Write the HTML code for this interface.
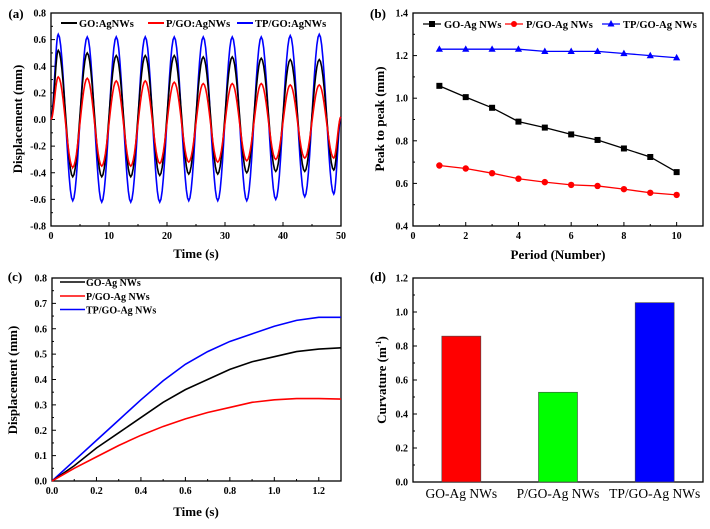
<!DOCTYPE html>
<html><head><meta charset="utf-8"><style>
body{margin:0;background:#fff;}
svg{display:block;font-family:"Liberation Serif",serif;font-weight:bold;}
</style></head><body>
<svg id="fig" width="710" height="529" viewBox="0 0 710 529" xmlns="http://www.w3.org/2000/svg"></svg>
<script>
// ---- Panel (a) data: per-cycle peaks / troughs ----
const aPeaksBlack=[0.52,0.50,0.48,0.48,0.48,0.47,0.47,0.46,0.45,0.45];
const aTroughBlack=[-0.43,-0.43,-0.43,-0.42,-0.41,-0.41,-0.40,-0.39,-0.39,-0.38];
const aPeaksRed=[0.32,0.31,0.29,0.29,0.28,0.27,0.27,0.27,0.26,0.26];
const aTroughRed=[-0.36,-0.35,-0.35,-0.33,-0.32,-0.32,-0.31,-0.30,-0.29,-0.29];
const aPeaksBlue=[0.64,0.62,0.62,0.62,0.62,0.62,0.62,0.62,0.63,0.64];
const aTroughBlue=[-0.61,-0.62,-0.62,-0.62,-0.61,-0.61,-0.61,-0.60,-0.58,-0.56];
const aXTicks=[0,10,20,30,40,50];
const aYTicks=[-0.8,-0.6,-0.4,-0.2,0.0,0.2,0.4,0.6,0.8];
// ---- Panel (b) ----
const bPeriods=[1,2,3,4,5,6,7,8,9,10];
const bGO=[1.058,1.005,0.955,0.89,0.862,0.83,0.804,0.764,0.724,0.653];
const bP=[0.684,0.67,0.648,0.622,0.606,0.593,0.588,0.573,0.556,0.546];
const bTP=[1.23,1.23,1.23,1.23,1.22,1.22,1.22,1.21,1.20,1.19];
const bXTicks=[0,2,4,6,8,10];
const bYTicks=[0.4,0.6,0.8,1.0,1.2,1.4];
// ---- Panel (c) ----
const cTime=[0,0.1,0.2,0.3,0.4,0.5,0.6,0.7,0.8,0.9,1.0,1.1,1.2,1.3];
const cGO=[0,0.06,0.13,0.19,0.25,0.31,0.36,0.40,0.44,0.47,0.49,0.51,0.52,0.525];
const cP=[0,0.05,0.095,0.14,0.18,0.215,0.245,0.27,0.29,0.31,0.32,0.325,0.325,0.323];
const cTP=[0,0.08,0.16,0.24,0.32,0.395,0.46,0.51,0.55,0.58,0.61,0.633,0.645,0.645];
const cXTicks=[0.0,0.2,0.4,0.6,0.8,1.0,1.2];
const cYTicks=[0.0,0.1,0.2,0.3,0.4,0.5,0.6,0.7,0.8];
// ---- Panel (d) ----
const dCats=["GO-Ag NWs","P/GO-Ag NWs","TP/GO-Ag NWs"];
const dVals=[0.858,0.528,1.055];
const dColors=["#ff0000","#00ff00","#0000ff"];
const dYTicks=[0.0,0.2,0.4,0.6,0.8,1.0,1.2];

const NS="http://www.w3.org/2000/svg";
const svg=document.getElementById('fig');
function mk(tag,attrs,parent,txt){const e=document.createElementNS(NS,tag);for(const k in attrs)e.setAttribute(k,attrs[k]);if(txt!==undefined)e.textContent=txt;(parent||svg).appendChild(e);return e;}
function lin(d0,d1,r0,r1){return v=>r0+(v-d0)/(d1-d0)*(r1-r0);}

function axes(g,x0,x1,y0,y1,xs,ys,xt,yt,xfmt,yfmt,xMinor){
  const frame=mk('rect',{x:x0,y:y0,width:x1-x0,height:y1-y0,fill:'none',stroke:'#000','stroke-width':1.3},g);
  
  if(xt){xt.forEach((v,i)=>{const x=xs(v);mk('line',{x1:x,x2:x,y1:y1,y2:y1-4,stroke:'#000'},g);
    const t=mk('text',{x:x,y:y1+13,'font-size':10,'text-anchor':'middle'},g,xfmt(v));
    
    if(xMinor&&i<xt.length-1){const xm=xs((v+xt[i+1])/2);mk('line',{x1:xm,x2:xm,y1:y1,y2:y1-2,stroke:'#000'},g);}});}
  yt.forEach((v,i)=>{const y=ys(v);mk('line',{x1:x0,x2:x0+4,y1:y,y2:y,stroke:'#000'},g);
    const t=mk('text',{x:x0-5,y:y+3.5,'font-size':10,'text-anchor':'end'},g,yfmt(v));
    
    if(i<yt.length-1){const ym=ys((v+yt[i+1])/2);mk('line',{x1:x0,x2:x0+2,y1:ym,y2:ym,stroke:'#000'},g);}});
}
function path(g,pts,color,w,name){const p=mk('path',{d:'M'+pts.map(p=>p[0].toFixed(2)+','+p[1].toFixed(2)).join('L'),fill:'none',stroke:color,'stroke-width':w},g);
  return p;}
function label(g,x,y,txt,size,name,rot){const t=mk('text',{x:x,y:y,'font-size':size,'text-anchor':'middle'},g,txt);
  if(rot)t.setAttribute('transform','rotate(-90 '+x+' '+y+')');return t;}

// ===== Panel a =====
(function(){
  const g=mk('g',{});
  const x0=51,x1=341,y0=13,y1=226;
  const xs=lin(0,50,x0,x1),ys=lin(-0.8,0.8,y1,y0);
  axes(g,x0,x1,y0,y1,xs,ys,aXTicks,aYTicks,v=>String(v),v=>v.toFixed(1),true);
  function wave(pk,tr){
    const key=[[0,0]];
    for(let i=0;i<pk.length;i++){key.push([5*i+1.25,pk[i]]);key.push([5*i+3.75,tr[i]]);}
    key.push([50,0.02]);
    const pts=[];
    for(let k=0;k<key.length-1;k++){const [ta,va]=key[k],[tb,vb]=key[k+1];
      for(let s=0;s<=12;s++){const f=s/12;const c=(1-Math.cos(Math.PI*f))/2;pts.push([xs(ta+(tb-ta)*f),ys(va+(vb-va)*c)]);}}
    return pts;}
  path(g,wave(aPeaksBlue,aTroughBlue),'#0000ff',1.6,'series-tp-go-agnws');
  path(g,wave(aPeaksBlack,aTroughBlack),'#000000',1.6,'series-go-agnws');
  path(g,wave(aPeaksRed,aTroughRed),'#ff0000',1.6,'series-p-go-agnws');
  const leg=[["GO:AgNWs","#000",61],["P/GO:AgNWs","#f00",148],["TP/GO:AgNWs","#00f",237]];
  leg.forEach(l=>{mk('line',{x1:l[2],x2:l[2]+16,y1:23,y2:23,stroke:l[1],'stroke-width':2},g);
    const t=mk('text',{x:l[2]+18,y:27,'font-size':10.5},g,l[0]);});
  label(g,196,258,'Time (s)',13,'x-axis-title');
  label(g,22,119,'Displacement (mm)',13,'y-axis-title',true);
  label(g,16,18,'(a)',13,'panel-label');
})();

// ===== Panel b =====
(function(){
  const g=mk('g',{});
  const x0=413,x1=703,y0=13,y1=226;
  const xs=lin(0,11,x0,x1),ys=lin(0.4,1.4,y1,y0);
  axes(g,x0,x1,y0,y1,xs,ys,bXTicks,bYTicks,v=>String(v),v=>v.toFixed(1),true);
  function ser(vals,color,name,marker){
    const pts=bPeriods.map((p,i)=>[xs(p),ys(vals[i])]);path(g,pts,color,1.3,name);
    pts.forEach(p=>{let m;
      if(marker==='sq')m=mk('rect',{x:p[0]-3,y:p[1]-3,width:6,height:6,fill:color},g);
      else if(marker==='ci')m=mk('circle',{cx:p[0],cy:p[1],r:3.2,fill:color},g);
      else m=mk('path',{d:`M${p[0]},${p[1]-3.8}L${p[0]+3.6},${p[1]+2.6}L${p[0]-3.6},${p[1]+2.6}Z`,fill:color},g);
      });}
  ser(bTP,'#0000ff','series-tp-go-ag-nws','tr');
  ser(bGO,'#000000','series-go-ag-nws','sq');
  ser(bP,'#ff0000','series-p-go-ag-nws','ci');
  const leg=[["GO-Ag NWs","#000",418,'sq'],["P/GO-Ag NWs","#f00",500,'ci'],["TP/GO-Ag NWs","#00f",597,'tr']];
  leg.forEach(l=>{mk('line',{x1:l[2]+5,x2:l[2]+23,y1:24,y2:24,stroke:l[1],'stroke-width':1.3},g);
    const cx=l[2]+14;
    if(l[3]==='sq')mk('rect',{x:cx-3,y:21,width:6,height:6,fill:l[1]},g);
    else if(l[3]==='ci')mk('circle',{cx:cx,cy:24,r:3,fill:l[1]},g);
    else mk('path',{d:`M${cx},20L${cx+3.5},26.5L${cx-3.5},26.5Z`,fill:l[1]},g);
    const t=mk('text',{x:l[2]+26,y:28,'font-size':10.5},g,l[0]);});
  label(g,558,259,'Period (Number)',13,'x-axis-title');
  label(g,384,119,'Peak to peak (mm)',13,'y-axis-title',true);
  label(g,378,18,'(b)',13,'panel-label');
})();

// ===== Panel c =====
(function(){
  const g=mk('g',{});
  const x0=52,x1=341,y0=278,y1=481;
  const xs=lin(0,1.3,x0,x1),ys=lin(0,0.8,y1,y0);
  axes(g,x0,x1,y0,y1,xs,ys,cXTicks,cYTicks,v=>v.toFixed(1),v=>v.toFixed(1),true);
  path(g,cTime.map((t,i)=>[xs(t),ys(cTP[i])]),'#0000ff',1.6,'series-tp-go-ag-nws');
  path(g,cTime.map((t,i)=>[xs(t),ys(cGO[i])]),'#000000',1.6,'series-go-ag-nws');
  path(g,cTime.map((t,i)=>[xs(t),ys(cP[i])]),'#ff0000',1.6,'series-p-go-ag-nws');
  const leg=[["GO-Ag NWs","#000",282],["P/GO-Ag NWs","#f00",296],["TP/GO-Ag NWs","#00f",309.5]];
  leg.forEach(l=>{mk('line',{x1:60,x2:85,y1:l[2],y2:l[2],stroke:l[1],'stroke-width':1.6},g);
    const t=mk('text',{x:86,y:l[2]+4,'font-size':10},g,l[0]);});
  label(g,196,516,'Time (s)',13,'x-axis-title');
  label(g,17,380,'Displacement (mm)',13,'y-axis-title',true);
  label(g,15,281,'(c)',13,'panel-label');
})();

// ===== Panel d =====
(function(){
  const g=mk('g',{});
  const x0=413,x1=703,y0=278,y1=482;
  const xs=lin(0.5,3.5,x0,x1),ys=lin(0,1.2,y1,y0);
  axes(g,x0,x1,y0,y1,xs,ys,null,dYTicks,null,v=>v.toFixed(1),false);
  dCats.forEach((c,i)=>{const cx=xs(i+1),top=ys(dVals[i]);
    const r=mk('rect',{x:cx-19.5,y:top,width:39,height:y1-top,fill:dColors[i],stroke:'#444','stroke-width':0.6},g);
    
    const t=mk('text',{x:cx,y:y1+16,'font-size':13.5,'text-anchor':'middle','font-weight':'normal'},g,c);
    });
  const yt=mk('text',{x:386,y:380,'font-size':13,'text-anchor':'middle',transform:'rotate(-90 386 380)'},g);
  
  yt.appendChild(document.createTextNode('Curvature (m'));
  mk('tspan',{'font-size':8,dy:-5},yt,'-1');
  mk('tspan',{'font-size':13,dy:5},yt,')');
  label(g,378,281,'(d)',13,'panel-label');
})();
</script>
</body></html>
